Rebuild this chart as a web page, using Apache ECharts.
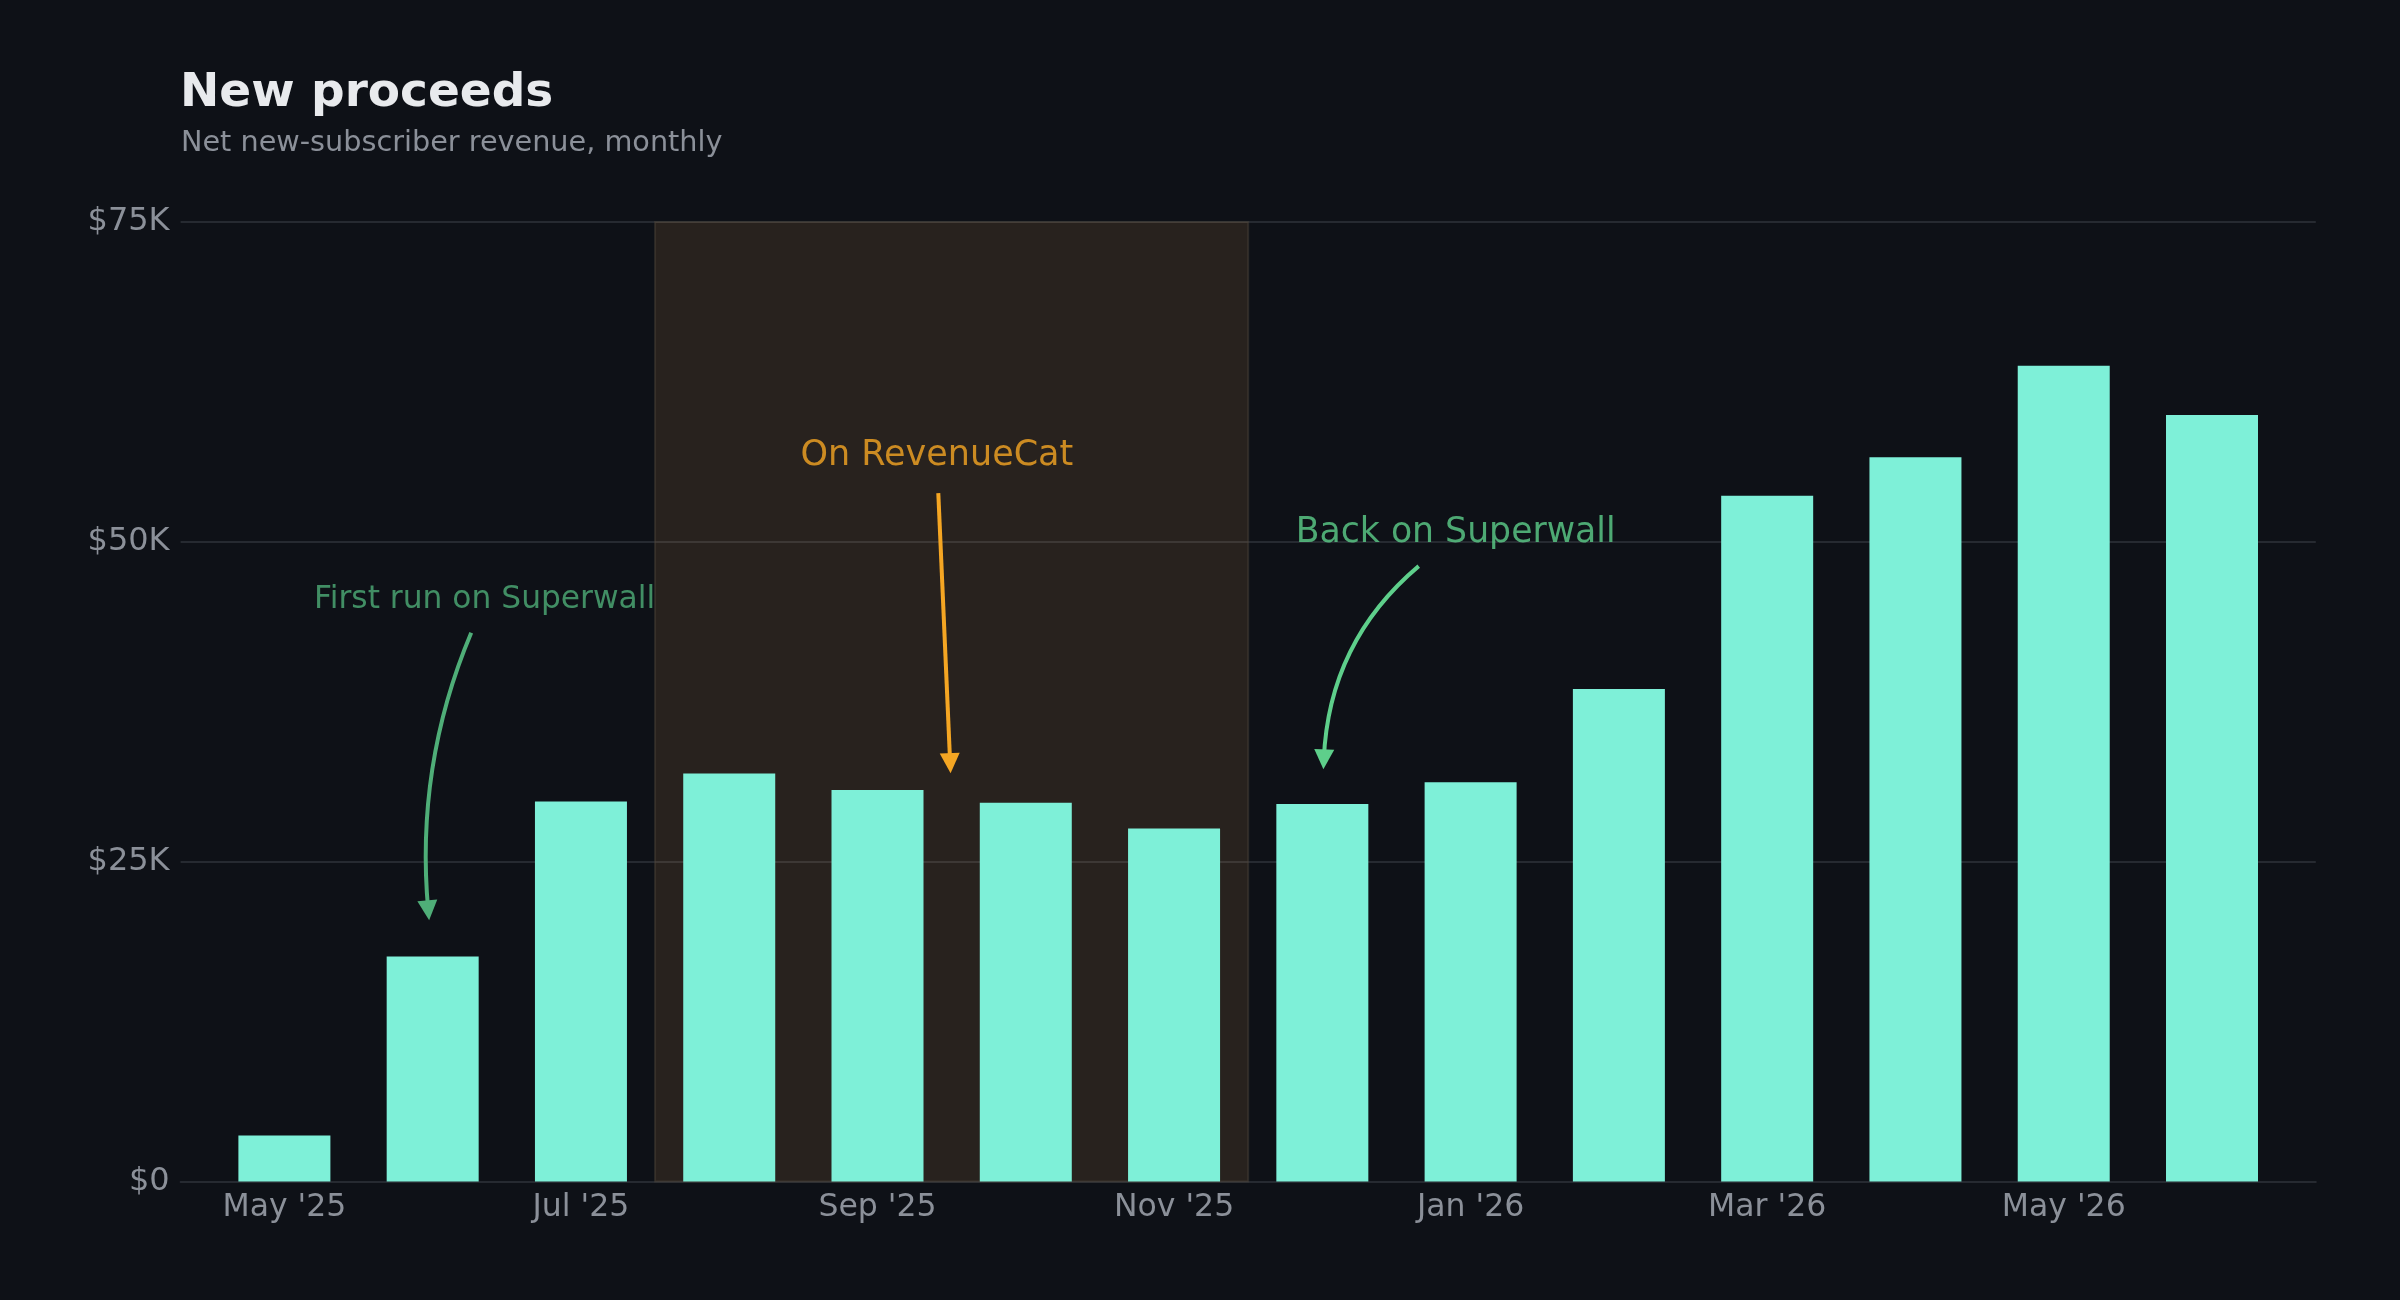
<!DOCTYPE html>
<html>
<head>
<meta charset="utf-8">
<script src="https://cdn.jsdelivr.net/npm/echarts@6/dist/echarts.min.js"></script>
<style>
html,body{margin:0;padding:0;background:#0e1117;}
#chart{width:2400px;height:1300px;}
</style>
</head>
<body>
<div id="chart"></div>
<script>
// ---- data ----
const months = ["May '25","Jun '25","Jul '25","Aug '25","Sep '25","Oct '25","Nov '25","Dec '25","Jan '26","Feb '26","Mar '26","Apr '26","May '26","Jun '26"];
const proceeds = [3600, 17600, 29700, 31900, 30600, 29600, 27600, 29500, 31200, 38500, 53600, 56600, 63750, 59900];
const xTickIndices = [0, 2, 4, 6, 8, 10, 12];
const yTicks = [0, 25000, 50000, 75000];
const revenueCatSpan = [2.5, 6.5];
const annotationTexts = ["First run on Superwall", "On RevenueCat", "Back on Superwall"];
const annotationTextPos = [[0.2, 45450], [3.48, 56700], [6.82, 50700]];
const annotationArrowFrom = [[1.26, 42900], [4.41, 53800], [7.65, 48100]];
const annotationArrowTo = [[0.97, 21200], [4.49, 32700], [7.01, 33000]];
const annotationColors = ["#4fae78", "#f5a623", "#5ecf8b"];
const annotationFontSizes = [31.3, 35, 34.7];
const annotationCurveness = [-0.125, 0, -0.22];

const chart = echarts.init(document.getElementById('chart'), null, {renderer: 'canvas'});
const FONT = 'DejaVu Sans';

const barData = proceeds.map((v, i) => [i, v]);

const textSeriesData = annotationTexts.map((t, i) => ({
  value: annotationTextPos[i],
  label: {
    show: true, formatter: t, position: 'right', distance: 0,
    color: annotationColors[i], fontSize: annotationFontSizes[i], fontFamily: FONT,
    verticalAlign: 'middle'
  }
}));

const arrowSeries = annotationTexts.map((t, i) => ({
  type: 'lines',
  coordinateSystem: 'cartesian2d',
  symbol: ['none', 'triangle'],
  symbolSize: [0, 20],
  z: 5,
  silent: true,
  lineStyle: {color: annotationColors[i], width: 4, opacity: 1, curveness: annotationCurveness[i]},
  data: [{coords: [annotationArrowFrom[i], annotationArrowTo[i]]}]
}));

const option = {
  backgroundColor: '#0e1117',
  animation: false,
  title: [
    {text: 'New proceeds', left: 175, top: 65,
     textStyle: {color: '#e8eaed', fontSize: 47, fontWeight: 'bold', fontFamily: FONT}},
    {text: 'Net new-subscriber revenue, monthly', left: 176, top: 124,
     textStyle: {color: '#8b9099', fontSize: 28.7, fontWeight: 'normal', fontFamily: FONT}}
  ],
  grid: {left: 180.6, right: 84.2, top: 221.9, bottom: 118.4, containLabel: false},
  xAxis: {
    type: 'value', min: -0.7, max: 13.7,
    splitLine: {show: false},
    axisLine: {show: true, lineStyle: {color: '#262a31', width: 2}},
    axisTick: {show: false},
    axisLabel: {
      customValues: xTickIndices,
      formatter: v => months[Math.round(v)] || '',
      color: '#8b9099', fontSize: 31.5, fontFamily: FONT, margin: 10
    }
  },
  yAxis: {
    type: 'value', min: 0, max: 75000, interval: 25000,
    axisLine: {show: false}, axisTick: {show: false},
    splitLine: {show: true, lineStyle: {color: '#262a31', width: 2}},
    axisLabel: {
      customValues: yTicks,
      formatter: v => v === 0 ? '$0' : '$' + Math.round(v / 1000) + 'K',
      color: '#8b9099', fontSize: 32, fontFamily: FONT, margin: 11,
      padding: [8, 0, 0, 0]
    }
  },
  series: [
    {
      type: 'bar', data: barData, barWidth: 92,
      itemStyle: {color: '#7ef0d8'},
      z: 3,
      markArea: {
        silent: true,
        z: 1,
        itemStyle: {color: 'rgba(255,170,90,0.11)', borderColor: 'rgba(80,70,60,0.45)', borderWidth: 2},
        data: [[{xAxis: revenueCatSpan[0]}, {xAxis: revenueCatSpan[1]}]]
      }
    },
    ...arrowSeries,
    {
      type: 'scatter', symbolSize: 0, silent: true, z: 6,
      data: textSeriesData
    }
  ]
};
chart.setOption(option);
</script>
</body>
</html>
